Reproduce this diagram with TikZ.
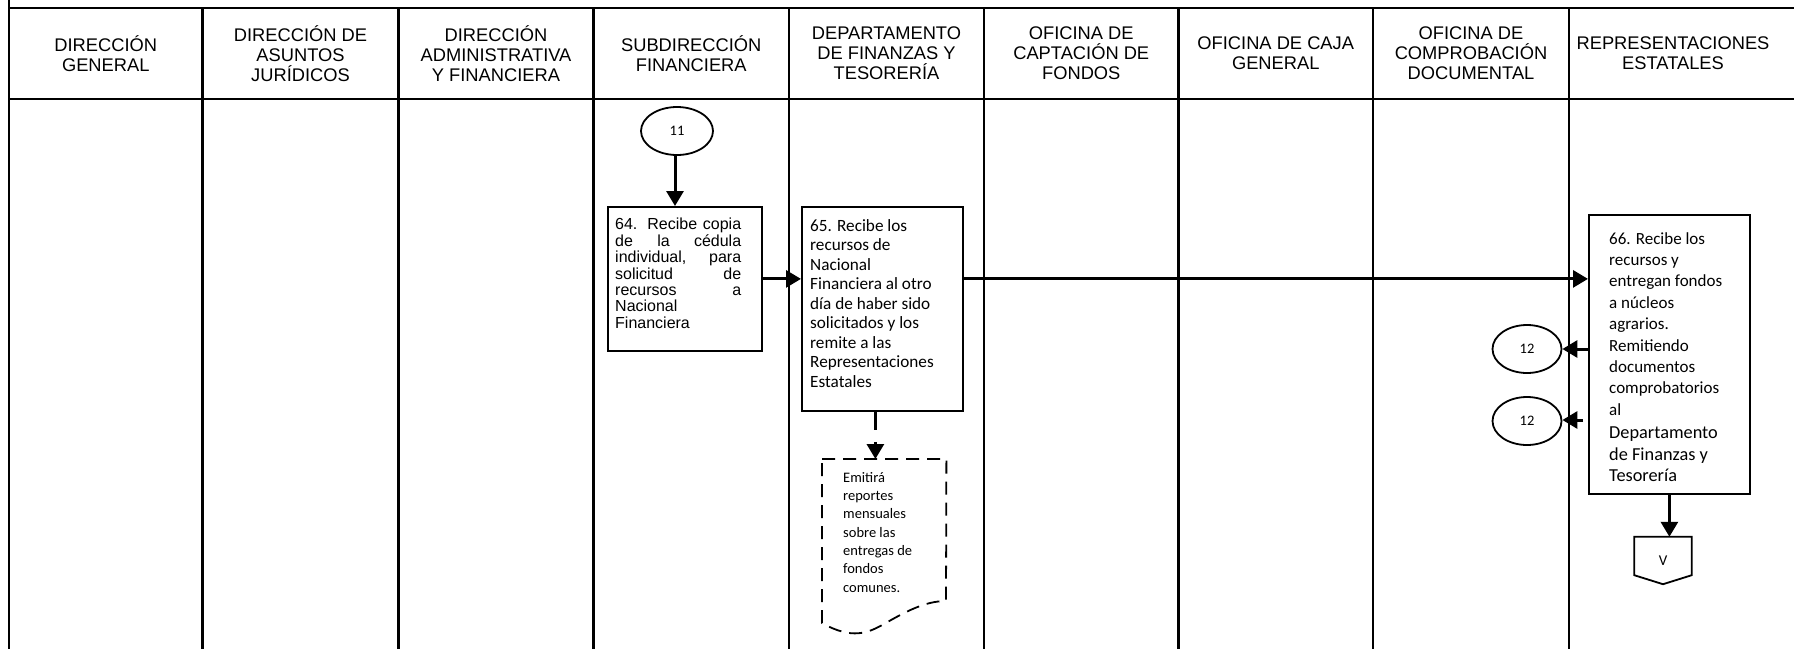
\documentclass[tikz,border=0pt]{standalone}
\usepackage{fontspec}
\setmainfont{Liberation Sans}
\newfontfamily\calibrif{Carlito}
\usetikzlibrary{arrows.meta,calc,shapes.geometric}

\begin{document}
\begin{tikzpicture}[x=1pt,y=-1pt,
  lane/.style={line width=2.7pt},
  headtxt/.style={font=\fontsize{18.3}{20}\selectfont, align=center, inner sep=0pt},
  procbox/.style={draw, line width=1.8pt, inner sep=0pt, anchor=north west},
  boxtxt/.style={inner sep=0pt, anchor=north west, align=left, font=\calibrif\fontsize{17.2}{19.5}\selectfont},
  flow/.style={line width=3pt, -{Triangle[length=15pt,width=17pt]}},
  conn/.style={draw, ellipse, line width=1.8pt, inner sep=0pt, minimum height=48pt,
               font=\calibrif\fontsize{14.5}{16}\selectfont},
]
\useasboundingbox (0,0) rectangle (1794,649);

% swimlane grid
\draw[lane] (9,8) -- (1794,8);
\draw[lane] (9,99) -- (1794,99);
\draw[lane] (9,0) -- (9,649);
\foreach \x in {202.5,398.5,593.5,789,984,1178.5,1373,1569}
  \draw[lane] (\x,8) -- (\x,649);

% lane headings
\node[headtxt] (h1) at (105.75,53.5) {DIRECCIÓN\\GENERAL};
\node[headtxt] (h2) at (300.5,53.5) {DIRECCIÓN DE\\ASUNTOS\\JURÍDICOS};
\node[headtxt] (h3) at (496,53.5) {DIRECCIÓN\\ADMINISTRATIVA\\Y FINANCIERA};
\node[headtxt] (h4) at (691.25,53.5) {SUBDIRECCIÓN\\FINANCIERA};
\node[headtxt] (h5) at (886.5,53.5) {DEPARTAMENTO\\DE FINANZAS Y\\TESORERÍA};
\node[headtxt] (h6) at (1081.25,53.5) {OFICINA DE\\CAPTACIÓN DE\\FONDOS};
\node[headtxt] (h7) at (1275.75,53.5) {OFICINA DE CAJA\\GENERAL};
\node[headtxt] (h8) at (1471,53.5) {OFICINA DE\\COMPROBACIÓN\\DOCUMENTAL};
\node[headtxt] (h9) at (1673,53.5) {REPRESENTACIONES\\ESTATALES};

% connectors from and to other pages
\node[conn, minimum width=72pt] (o11) at (677,131) {11};
\node[conn, minimum width=69pt] (o12a) at (1527,349) {12};
\node[conn, minimum width=69pt] (o12b) at (1527,421) {12};

% activity 64
\node[procbox, minimum width=154pt, minimum height=144pt] (b64) at (607,206) {};
\node[inner sep=0pt, anchor=north west, text width=126pt, align=justify,
      font=\fontsize{16}{16.4}\selectfont] (t64) at (615,218)
  {64. Recibe copia\linebreak de la cédula\linebreak individual, para\linebreak
   solicitud de\linebreak recursos a\linebreak Nacional\newline Financiera};

% activity 65
\node[procbox, minimum width=161pt, minimum height=204pt] (b65) at (801,206) {};
\node[boxtxt] (t65) at (810,219)
  {65. Recibe los\\recursos de\\Nacional\\Financiera al otro\\día de haber sido\\
   solicitados y los\\remite a las\\Representaciones\\Estatales};

% activity 66
\node[procbox, minimum width=161pt, minimum height=279pt] (b66) at (1588,214) {};
\node[boxtxt, font=\calibrif\fontsize{17}{21.4}\selectfont] (t66) at (1609,232)
  {66. Recibe los\\recursos y\\entregan fondos\\a núcleos\\agrarios.\\Remitiendo\\
   documentos\\comprobatorios\\al\\[1.5pt]
   {\fontsize{18.3}{22.5}\selectfont Departamento}\\[0.5pt]
   {\fontsize{18.3}{22.5}\selectfont de Finanzas y}\\[0.5pt]
   {\fontsize{18.3}{22.5}\selectfont Tesorería}};

% report document (dashed)
\node[inner sep=0pt, minimum width=124pt, minimum height=176pt, anchor=north west] (doc) at (822,459) {};
\draw[line width=1.8pt, dash pattern=on 13pt off 8pt]
  (doc.north west) -- (doc.north east) -- (946,601)
  .. controls (925,601) and (905,612) .. (884,624)
  .. controls (868,633) and (852,640) .. (822,623) -- cycle;
\node[boxtxt, font=\calibrif\fontsize{14.5}{18.3}\selectfont] (tdoc) at (843,472)
  {Emitirá\\reportes\\mensuales\\sobre las\\entregas de\\fondos\\comunes.};

% off-page connector
\node[inner sep=0pt, minimum width=57pt, minimum height=47pt,
      font=\calibrif\fontsize{15}{17}\selectfont] (vcon) at (1663,560.5) {V};
\draw[line width=1.8pt] (vcon.north west) -- (vcon.north east)
  -- ($(vcon.south east)+(0,-9)$) -- (vcon.south) -- ($(vcon.south west)+(0,-9)$) -- cycle;

% flow
\coordinate (a11) at ($(o11.south)+(-2,0)$);
\draw[flow] (a11) -- (a11 |- b64.north);
\draw[flow] (b64.east) -- (b64.east -| b65.west);
\draw[flow] (b65.east |- b64.east) -- (b64.east -| b66.west);
\draw[flow] (b66.west |- o12a.east) -- (o12a.east);
\coordinate (s12) at (1583,420);
\draw[flow] (s12) -- (s12 -| o12b.east);
\draw[flow] (b66.south) -- (b66.south |- vcon.north);
\coordinate (a65) at ($(b65.south)+(-7,0)$);
\draw[flow, dash pattern=on 18pt off 12pt] (a65) -- (a65 |- doc.north);
\end{tikzpicture}
\end{document}
